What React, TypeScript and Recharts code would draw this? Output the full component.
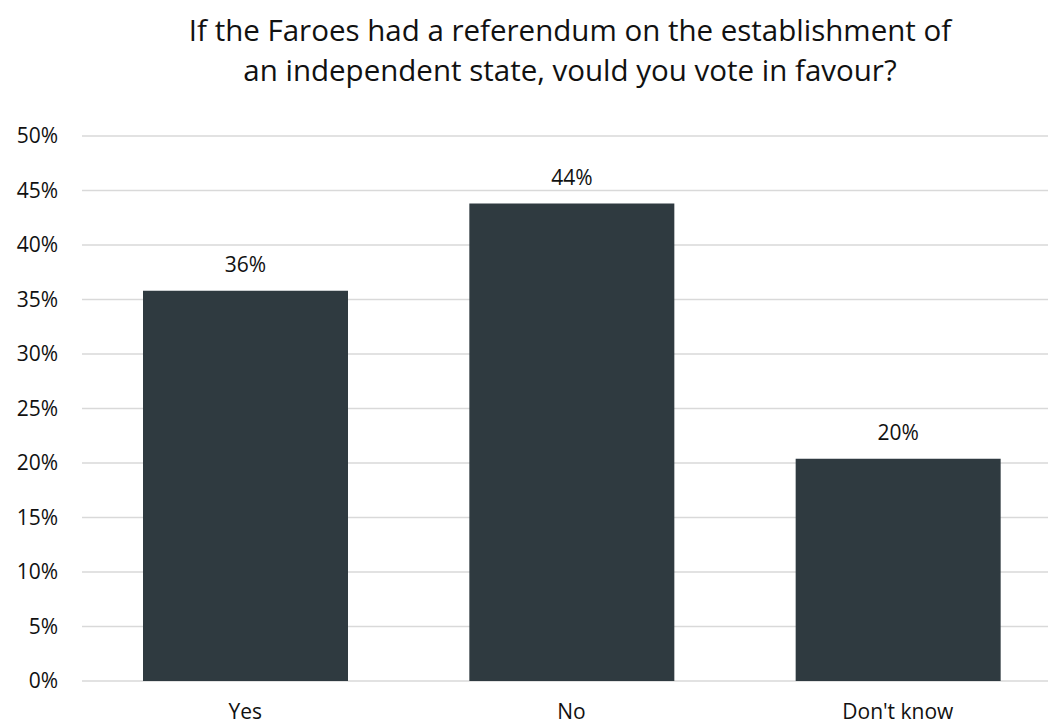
import React from 'react';
import { BarChart, Bar, XAxis, YAxis, CartesianGrid, LabelList } from 'recharts';

const categories = ['Yes', 'No', "Don't know"];
const values = [35.8, 43.8, 20.4];
const yTicks = [0, 5, 10, 15, 20, 25, 30, 35, 40, 45, 50];
const titleLines = [
  'If the Faroes had a referendum on the establishment of',
  'an independent state, vould you vote in favour?',
];

const data = categories.map((c, i) => ({ name: c, value: values[i] }));

const FONT = '"Open Sans", sans-serif';

export default function App() {
  return (
    <div
      style={{
        position: 'absolute',
        left: 0,
        top: 0,
        width: 1048,
        height: 724,
        overflow: 'hidden',
        background: '#fff',
        fontFamily: FONT,
      }}
    >
      <div
        style={{
          position: 'absolute',
          left: 0,
          top: 10,
          width: 1140,
          textAlign: 'center',
          fontSize: 29.5,
          lineHeight: '40px',
          color: '#111',
          fontFamily: FONT,
        }}
      >
        {titleLines.map((l, i) => (
          <div key={i}>{l}</div>
        ))}
      </div>
      <BarChart
        width={1061}
        height={724}
        data={data}
        margin={{ top: 136, right: 0, bottom: 0, left: 0 }}
        barSize={205}
      >
        <CartesianGrid vertical={false} stroke="#d9d9d9" strokeWidth={1.5} />
        <XAxis
          dataKey="name"
          axisLine={false}
          tickLine={false}
          tickSize={0}
          tickMargin={23}
          height={43}
          tick={{ fill: '#111', fontSize: 21, fontFamily: FONT }}
        />
        <YAxis
          domain={[0, 50]}
          ticks={yTicks}
          tickFormatter={(v) => `${v}%`}
          axisLine={false}
          tickLine={false}
          tickSize={0}
          tickMargin={24}
          width={82}
          tick={{ fill: '#111', fontSize: 21, fontFamily: FONT }}
        />
        <Bar dataKey="value" fill="#2f3a40" isAnimationActive={false}>
          <LabelList
            dataKey="value"
            position="top"
            offset={19}
            formatter={(v: number) => `${Math.round(v)}%`}
            style={{ fill: '#111', fontSize: 21, fontFamily: FONT }}
          />
        </Bar>
      </BarChart>
    </div>
  );
}
